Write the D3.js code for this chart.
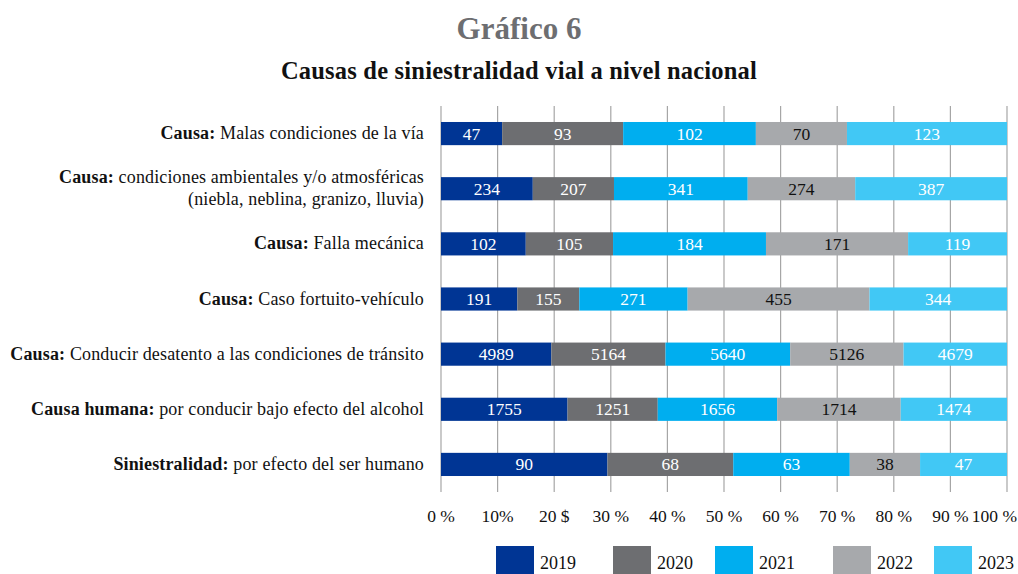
<!DOCTYPE html>
<html>
<head>
<meta charset="utf-8">
<script src="https://cdn.jsdelivr.net/npm/d3@7"></script>
<style>
  html, body { margin: 0; padding: 0; background: #fff; }
  svg { display: block; font-family: "Liberation Serif", "DejaVu Serif", serif; }
</style>
</head>
<body>
<svg id="chart" width="1018" height="574"></svg>
<script>
// Category labels: bold lead-in plus the rest of the text (one entry per line)
const categories = [
  "vía", "atmos", "mecanica", "fortuito", "desatento", "alcohol", "humano"
];
const categoryLabels = [
  [["Causa:", " Malas condiciones de la vía"]],
  [["Causa:", " condiciones ambientales y/o atmosféricas"], ["", "(niebla, neblina, granizo, lluvia)"]],
  [["Causa:", " Falla mecánica"]],
  [["Causa:", " Caso fortuito-vehículo"]],
  [["Causa:", " Conducir desatento a las condiciones de tránsito"]],
  [["Causa humana:", " por conducir bajo efecto del alcohol"]],
  [["Siniestralidad:", " por efecto del ser humano"]]
];

const years = ["2019", "2020", "2021", "2022", "2023"];
const values2019 = [47, 234, 102, 191, 4989, 1755, 90];
const values2020 = [93, 207, 105, 155, 5164, 1251, 68];
const values2021 = [102, 341, 184, 271, 5640, 1656, 63];
const values2022 = [70, 274, 171, 455, 5126, 1714, 38];
const values2023 = [123, 387, 119, 344, 4679, 1474, 47];
const seriesValues = [values2019, values2020, values2021, values2022, values2023];

const tickValues = [0, 0.1, 0.2, 0.3, 0.4, 0.5, 0.6, 0.7, 0.8, 0.9, 1];
const tickLabels = ["0 %", "10%", "20 $", "30 %", "40 %", "50 %", "60 %", "70 %", "80 %", "90 %", "100 %"];

const colors = ["#003594", "#6d6e71", "#00aeef", "#a7a9ac", "#41c8f5"];
const labelColors = ["#ffffff", "#ffffff", "#ffffff", "#111111", "#ffffff"];

// Build rows for the stack
const rows = categories.map((c, i) => {
  const r = { key: c };
  years.forEach((y, j) => { r[y] = seriesValues[j][i]; });
  return r;
});

const stack = d3.stack().keys(years).offset(d3.stackOffsetExpand);
const layers = stack(rows);

const svg = d3.select("#chart");
const plotLeft = 441, plotRight = 1007, plotTop = 106, plotBottom = 492;

const x = d3.scaleLinear().domain([0, 1]).range([plotLeft, plotRight]);
const y = d3.scaleBand().domain(categories).range([plotTop, plotBottom])
  .paddingInner(0.58).paddingOuter(0.29);

// Titles
svg.append("text")
  .attr("x", 519).attr("y", 39)
  .attr("text-anchor", "middle")
  .attr("font-size", 31).attr("font-weight", "bold")
  .attr("fill", "#6d6e71")
  .text("Gráfico 6");

svg.append("text")
  .attr("x", 519).attr("y", 79)
  .attr("text-anchor", "middle")
  .attr("font-size", 24.5).attr("font-weight", "bold")
  .attr("letter-spacing", 0.2)
  .attr("fill", "#111")
  .text("Causas de siniestralidad vial a nivel nacional");

// Vertical gridlines
svg.append("g")
  .selectAll("line")
  .data(tickValues)
  .join("line")
  .attr("x1", d => x(d)).attr("x2", d => x(d))
  .attr("y1", plotTop).attr("y2", plotBottom)
  .attr("stroke", "#a6a6a6")
  .attr("stroke-width", 1.2);

// Stacked bars
const layerG = svg.append("g")
  .selectAll("g")
  .data(layers)
  .join("g")
  .attr("fill", (d, i) => colors[i]);

layerG.selectAll("rect")
  .data(d => d)
  .join("rect")
  .attr("x", d => x(d[0]))
  .attr("y", d => y(d.data.key))
  .attr("width", d => x(d[1]) - x(d[0]))
  .attr("height", y.bandwidth());

// Value labels inside segments
svg.append("g")
  .selectAll("g")
  .data(layers)
  .join("g")
  .attr("fill", (d, i) => labelColors[i])
  .selectAll("text")
  .data(d => d.map(s => ({ s, key: d.key })))
  .join("text")
  .attr("x", d => (x(d.s[0]) + x(d.s[1])) / 2)
  .attr("y", d => y(d.s.data.key) + y.bandwidth() / 2 + 6)
  .attr("text-anchor", "middle")
  .attr("font-size", 17.5)
  .text(d => d.s.data[d.key]);

// Category labels on the left
const catG = svg.append("g");
categories.forEach((c, i) => {
  const lines = categoryLabels[i];
  const cy = y(c) + y.bandwidth() / 2;
  const lineH = 22;
  const startY = cy + 5.5 - (lines.length - 1) * lineH / 2;
  lines.forEach((ln, k) => {
    const t = catG.append("text")
      .attr("x", 424)
      .attr("y", startY + k * lineH)
      .attr("text-anchor", "end")
      .attr("font-size", 18)
      .attr("letter-spacing", 0.15)
      .attr("fill", "#111");
    if (ln[0]) t.append("tspan").attr("font-weight", "bold").text(ln[0]);
    t.append("tspan").text(ln[1]);
  });
});

// X axis tick labels
svg.append("g")
  .selectAll("text")
  .data(tickValues)
  .join("text")
  .attr("x", (d, i) => i === tickValues.length - 1 ? 1017 : x(d))
  .attr("y", 522)
  .attr("text-anchor", (d, i) => i === tickValues.length - 1 ? "end" : "middle")
  .attr("font-size", 17.5)
  .attr("fill", "#111")
  .text((d, i) => tickLabels[i]);

// Legend
const legendX = [496, 613, 715, 833, 934];
const legend = svg.append("g")
  .selectAll("g")
  .data(years)
  .join("g")
  .attr("transform", (d, i) => `translate(${legendX[i]},546)`);
legend.append("rect")
  .attr("width", 38).attr("height", 30)
  .attr("fill", (d, i) => colors[i]);
legend.append("text")
  .attr("x", 44).attr("y", 23)
  .attr("font-size", 18)
  .attr("fill", "#111")
  .text(d => d);
</script>
</body>
</html>
